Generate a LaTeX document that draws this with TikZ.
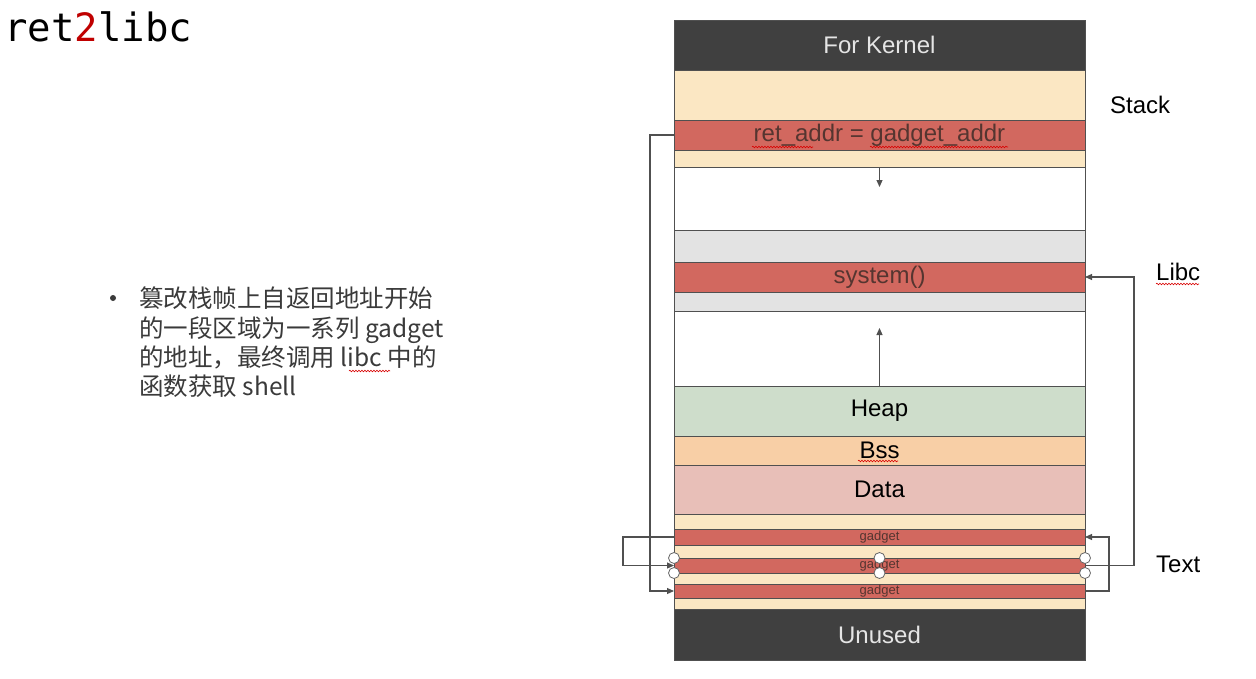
\documentclass[tikz,border=0pt]{standalone}
\usepackage{fontspec}
\setmainfont{Liberation Sans}
\newfontfamily\cjkf{Noto Sans CJK SC}
\newfontfamily\monof{DejaVu Sans Mono}
\usetikzlibrary{arrows.meta,decorations.pathmorphing}
\definecolor{kern}{HTML}{404040}
\definecolor{stky}{HTML}{FBE7C3}
\definecolor{redb}{HTML}{D2685F}
\definecolor{grayb}{HTML}{E3E3E3}
\definecolor{heapc}{HTML}{CEDDCB}
\definecolor{bssc}{HTML}{F8CFA6}
\definecolor{datac}{HTML}{E8BFB8}
\definecolor{linec}{HTML}{505050}
\definecolor{redtxt}{HTML}{553530}
\definecolor{bodytxt}{HTML}{3A3A3A}
\definecolor{titlered}{HTML}{C00000}
\begin{document}
\begin{tikzpicture}[x=1pt,y=-1pt,
  blk/.style={draw=linec, line width=0.8pt, minimum width=411pt, inner sep=0pt, outer sep=0pt, anchor=north, font=\fontsize{24}{28}\selectfont},
  redblk/.style={blk, fill=redb, text=redtxt},
  gadblk/.style={redblk, font=\fontsize{13}{15}\selectfont},
  conn/.style={draw=linec, line width=1.1pt, -{Triangle[length=7pt,width=6pt]}},
  side/.style={anchor=base west, font=\fontsize{24}{28}\selectfont, text=black, inner sep=0pt},
  cjkline/.style={anchor=base west, inner sep=0pt, text=bodytxt, font=\cjkf\fontsize{24.5}{29}\selectfont},
  wavy/.style={draw=red!85!black, line width=0.6pt, decorate, decoration={snake, amplitude=0.8pt, segment length=3pt}},
  handle/.style={circle, draw=gray!80!black, fill=white, line width=0.8pt, minimum size=11pt, inner sep=0pt}]
\useasboundingbox (0,0) rectangle (1256,678);
\fill[white] (0,0) rectangle (1256,678);

% title
\node[anchor=base west, inner sep=0pt, font=\monof\fontsize{39}{40}\selectfont] (title) at (4,41) {ret\textcolor{titlered}{2}libc};

% bullet text
\fill[bodytxt] (113,298) circle (3pt);
\node[cjkline] (l1) at (139,307) {篡改栈帧上自返回地址开始};
\node[cjkline] (l2) at (139,337) {的一段区域为一系列 gadget};
\node[cjkline] (l3) at (139,366) {的地址，最终调用 libc 中的};
\node[cjkline] (l4) at (139,395) {函数获取 shell};
\draw[wavy] (349,371) -- (390,371);

% memory column
\node[blk, fill=kern, text=white!90!black, minimum height=50pt] (kernel) at (879.5,20) {For Kernel};
\node[blk, fill=stky, minimum height=50pt] (stk) at (879.5,70) {};
\node[redblk, minimum height=30pt] (ret) at (879.5,120) {ret\_addr = gadget\_addr};
\node[blk, fill=stky, minimum height=17pt] (stk2) at (879.5,150) {};
\node[blk, fill=white, minimum height=63pt] (w1) at (879.5,167) {};
\node[blk, fill=grayb, minimum height=32pt] (gr1) at (879.5,230) {};
\node[redblk, minimum height=30pt] (sys) at (879.5,262) {system()};
\node[blk, fill=grayb, minimum height=19pt] (gr2) at (879.5,292) {};
\node[blk, fill=white, minimum height=75pt] (w2) at (879.5,311) {};
\node[blk, fill=heapc, minimum height=50pt] (heap) at (879.5,386) {Heap};
\node[blk, fill=bssc, minimum height=29pt] (bss) at (879.5,436) {Bss};
\node[blk, fill=datac, minimum height=49pt] (data) at (879.5,465) {Data};
\node[blk, fill=stky, minimum height=15pt] (y1) at (879.5,514) {};
\node[gadblk, minimum height=16pt] (gad1) at (879.5,529) {gadget};
\node[blk, fill=stky, minimum height=13pt] (y2) at (879.5,545) {};
\node[gadblk, minimum height=15pt] (gad2) at (879.5,558) {gadget};
\node[blk, fill=stky, minimum height=11pt] (y3) at (879.5,573) {};
\node[gadblk, minimum height=14pt] (gad3) at (879.5,584) {gadget};
\node[blk, fill=stky, minimum height=11pt] (y4) at (879.5,598) {};
\node[blk, fill=kern, text=white!90!black, minimum height=51pt] (unused) at (879.5,609) {Unused};

% spell-check underlines
\draw[wavy] (752,147) -- (813,147);
\draw[wavy] (870,147) -- (1008,147);
\draw[wavy] (858,461) -- (898,461);

% side labels
\node[side] (lstack) at (1110,113) {Stack};
\node[side] (llibc) at (1156,280) {Libc};
\node[side] (ltext) at (1156,572) {Text};
\draw[wavy] (1156,284) -- (1199,284);

% arrows inside column
\draw[conn] (w1.north) -- ++(0,20);
\draw[conn] (w2.south) -- ++(0,-58);

% chain connectors
\draw[conn] (ret.west) -- ++(-24,0) |- (gad3.west);
\draw[conn] (gad1.west) -- ++(-51,0) |- (gad2.west);
\draw[conn] (gad3.east) -- ++(24,0) |- (gad1.east);
\draw[conn] (gad2.east) -- ++(49,0) |- (sys.east);

% selection handles
\node[handle] (h1) at (gad2.north west) {};
\node[handle] (h2) at (gad2.north) {};
\node[handle] (h3) at (gad2.north east) {};
\node[handle] (h4) at (gad2.south west) {};
\node[handle] (h5) at (gad2.south) {};
\node[handle] (h6) at (gad2.south east) {};
\end{tikzpicture}
\end{document}
